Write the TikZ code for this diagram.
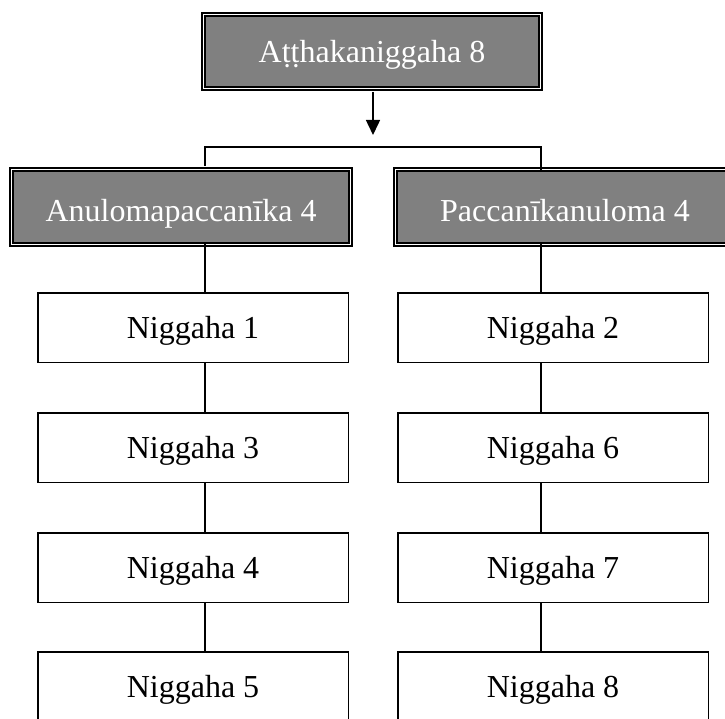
\documentclass[tikz,border=0pt]{standalone}
\usepackage{fontspec}
\setmainfont{Liberation Serif}
\usetikzlibrary{arrows.meta}
\definecolor{boxgray}{HTML}{808080}
\tikzset{
  head/.style={draw=black, fill=boxgray, text=white, double=white, line width=2pt, double distance=1pt,
    inner sep=0pt, font=\fontsize{32}{36}\selectfont},
  leaf/.style={draw=black, fill=white, line width=1.5pt, inner sep=0pt,
    minimum width=310.5pt, minimum height=69.5pt, text height=22pt, text depth=1pt,
    font=\fontsize{32}{36}\selectfont},
  link/.style={draw=black, line width=1.5pt},
}
\begin{document}
\begin{tikzpicture}[x=1pt, y=-1pt]
\useasboundingbox (0,0) rectangle (725,719);
\clip (0,0) rectangle (725,719);
% named coordinates for connector paths
\coordinate (lx) at (205,0);
\coordinate (rx) at (541,0);
\coordinate (ax) at (373,0);
\coordinate (tip) at (373,135);
\coordinate (brr) at (541,147);

\node[head, minimum width=337pt, minimum height=74pt, text height=24pt, text depth=1pt] (top) at (372,51.5) {A\d{t}\d{t}hakaniggaha 8};
\node[head, minimum width=339pt, minimum height=75pt, text height=30pt, text depth=1pt] (L) at (181,207) {Anulomapaccanīka 4};
\node[head, minimum width=339pt, minimum height=75pt, text height=30pt, text depth=1pt] (R) at (565,207) {Paccanīkanuloma 4};

\node[leaf] (n1) at (193,327.5) {Niggaha 1};
\node[leaf] (n3) at (193,447.5) {Niggaha 3};
\node[leaf] (n4) at (193,567.5) {Niggaha 4};
\node[leaf] (n5) at (193,686.5) {Niggaha 5};
\node[leaf] (n2) at (553,327.5) {Niggaha 2};
\node[leaf] (n6) at (553,447.5) {Niggaha 6};
\node[leaf] (n7) at (553,567.5) {Niggaha 7};
\node[leaf] (n8) at (553,686.5) {Niggaha 8};

\draw[link, -{Triangle[width=14pt,length=15pt]}] (top.south -| ax) ++(0,2.5) -- (tip);
\draw[link] (L.north -| lx) ++(0,-2.5) |- (brr) -- ([yshift=-2.5pt]R.north -| rx);

\draw[link] ([yshift=2.5pt]L.south -| lx) -- (n1.north -| lx);
\draw[link] (n1.south -| lx) -- (n3.north -| lx);
\draw[link] (n3.south -| lx) -- (n4.north -| lx);
\draw[link] (n4.south -| lx) -- (n5.north -| lx);
\draw[link] ([yshift=2.5pt]R.south -| rx) -- (n2.north -| rx);
\draw[link] (n2.south -| rx) -- (n6.north -| rx);
\draw[link] (n6.south -| rx) -- (n7.north -| rx);
\draw[link] (n7.south -| rx) -- (n8.north -| rx);
\end{tikzpicture}
\end{document}
